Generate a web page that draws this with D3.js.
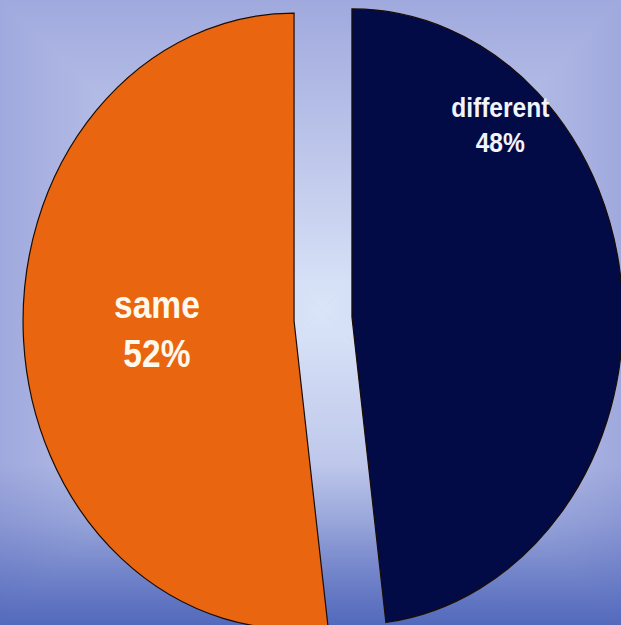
<!DOCTYPE html>
<html>
<head>
<meta charset="utf-8">
<script src="https://cdn.jsdelivr.net/npm/d3@7"></script>
<style>
  html, body { margin: 0; padding: 0; background: #a2acde; }
  svg { display: block; }
</style>
</head>
<body>
<svg id="chart" width="621" height="625"></svg>
<script>
// ---- data ----
const categories = ["different", "same"];
const values = [48, 52];
const labels = ["48%", "52%"];

// ---- style / layout ----
const W = 621, H = 625;
const colors = ["#020b45", "#e9650f"];
const textColors = ["#f3f3fa", "#fff8ec"];
const fontSizes = [27, 39];
const fontStretch = [0.91, 0.86];
const lineGaps = [35, 49];
const baseShift = [12, 12];
const labelAngleFrac = [0.237, 0.5];   // where in each slice the label sits
const labelRadiusFrac = [0.835, 0.507];
const cx = 323, cy = 319, r = 271, yScale = 308 / 271, explode = 29;

const svg = d3.select("#chart");
const defs = svg.append("defs");

// ---- background: rectangular path gradient (4 triangles) + bottom darkening ----
const gx = 322, gy = 310;
const centerCol = "#dbe5f8", edgeCol = "#a0a9dd";
const tris = [
  {pts: [[0,0],[W,0]], end: [gx, 0]},
  {pts: [[W,0],[W,H]], end: [W, gy]},
  {pts: [[W,H],[0,H]], end: [gx, H]},
  {pts: [[0,H],[0,0]], end: [0, gy]}
];
tris.forEach((t, i) => {
  const g = defs.append("linearGradient").attr("id", "bg" + i)
    .attr("gradientUnits", "userSpaceOnUse")
    .attr("x1", gx).attr("y1", gy).attr("x2", t.end[0]).attr("y2", t.end[1]);
  g.append("stop").attr("offset", 0).attr("stop-color", centerCol);
  g.append("stop").attr("offset", 1).attr("stop-color", edgeCol);
  svg.append("path")
    .attr("d", d3.line()([[gx, gy], t.pts[0], t.pts[1]]) + "Z")
    .attr("fill", `url(#bg${i})`)
    .attr("stroke", `url(#bg${i})`).attr("stroke-width", 0.6);
});
const bottomGrad = defs.append("linearGradient").attr("id", "bottomDark")
  .attr("gradientUnits", "userSpaceOnUse")
  .attr("x1", 0).attr("y1", 465).attr("x2", 0).attr("y2", H);
bottomGrad.append("stop").attr("offset", 0).attr("stop-color", "#4a62b8").attr("stop-opacity", 0);
bottomGrad.append("stop").attr("offset", 0.35).attr("stop-color", "#4a62b8").attr("stop-opacity", 0.25);
bottomGrad.append("stop").attr("offset", 1).attr("stop-color", "#4a62b8").attr("stop-opacity", 0.9);
svg.append("rect").attr("x", 0).attr("y", 465).attr("width", W).attr("height", H - 465)
  .attr("fill", "url(#bottomDark)");

// ---- pie ----
const data = categories.map((c, i) => ({ cat: c, value: values[i], label: labels[i], i }));
const pie = d3.pie().sort(null).value(d => d.value);
const arcs = pie(data);
const arc = d3.arc().innerRadius(0).outerRadius(r);

const g = svg.append("g").attr("transform", `translate(${cx},${cy})`);

const slices = g.selectAll("g.slice").data(arcs).join("g")
  .attr("class", "slice")
  .attr("transform", d => {
    const mid = (d.startAngle + d.endAngle) / 2;
    const dx = explode * Math.sin(mid), dy = -explode * Math.cos(mid) * yScale;
    return `translate(${dx},${dy})`;
  });

slices.append("path")
  .attr("d", arc)
  .attr("transform", `scale(1,${yScale})`)
  .attr("fill", d => colors[d.data.i])
  .attr("stroke", "#1a0c02")
  .attr("stroke-width", 1.2)
  .attr("vector-effect", "non-scaling-stroke");

// ---- labels ----
slices.each(function(d) {
  const i = d.data.i;
  const a = d.startAngle + (d.endAngle - d.startAngle) * labelAngleFrac[i];
  const rr = r * labelRadiusFrac[i];
  const x = rr * Math.sin(a), y = -rr * Math.cos(a) * yScale;
  const t = d3.select(this).append("text")
    .attr("transform", `translate(${x},${y}) scale(${fontStretch[i]},1)`)
    .attr("text-anchor", "middle")
    .attr("fill", textColors[i])
    .attr("font-family", "'Liberation Sans', Arial, sans-serif")
    .attr("font-weight", "bold")
    .attr("font-size", fontSizes[i]);
  t.append("tspan").attr("x", 0).attr("y", -lineGaps[i] / 2 + baseShift[i]).text(d.data.cat);
  t.append("tspan").attr("x", 0).attr("y", lineGaps[i] / 2 + baseShift[i]).text(d.data.label);
});
</script>
</body>
</html>
